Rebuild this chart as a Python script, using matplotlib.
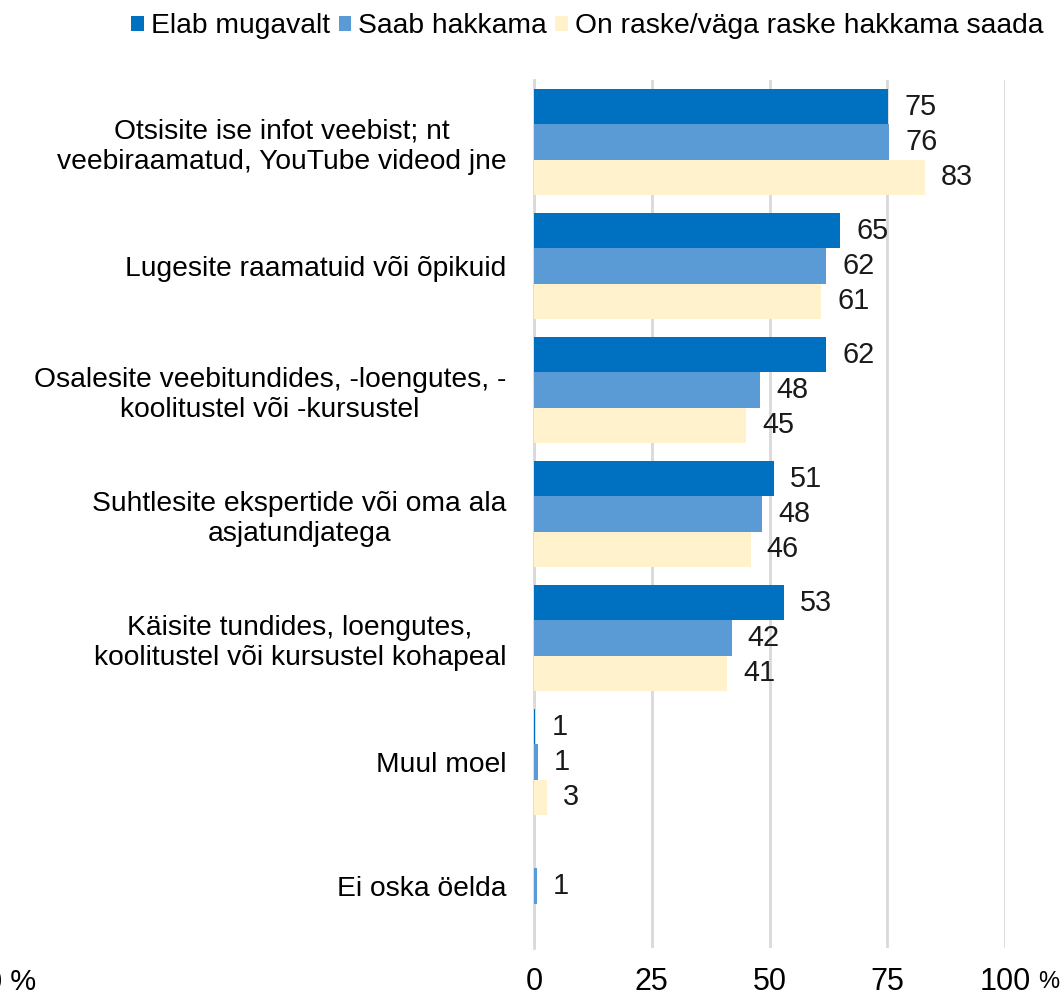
import numpy as np
import matplotlib.pyplot as plt

plt.rcParams['font.family'] = ['Liberation Sans', 'DejaVu Sans']

categories = [
    "Otsisite ise infot veebist; nt\nveebiraamatud, YouTube videod jne",
    "Lugesite raamatuid või õpikuid",
    "Osalesite veebitundides, -loengutes, -\nkoolitustel või -kursustel",
    "Suhtlesite ekspertide või oma ala\nasjatundjatega",
    "Käisite tundides, loengutes,\nkoolitustel või kursustel kohapeal",
    "Muul moel",
    "Ei oska öelda",
]
series = ["Elab mugavalt", "Saab hakkama", "On raske/väga raske hakkama saada"]
colors = ["#0070C0", "#5B9BD5", "#FFF2CC"]

# bar lengths and the printed labels
elab = [75.2, 65, 62, 51, 53, 0.3, np.nan]
saab = [75.4, 62, 48, 48.4, 42, 0.8, 0.6]
raske = [83, 61, 45, 46, 41, 2.8, np.nan]
elab_lbl = ["75", "65", "62", "51", "53", "1", ""]
saab_lbl = ["76", "62", "48", "48", "42", "1", "1"]
raske_lbl = ["83", "61", "45", "46", "41", "3", ""]

fs = 20.3

fig = plt.figure(figsize=(10.63, 9.96), dpi=100)
ax = fig.add_axes([0.5024, 0.0482, 0.443, 0.8715])

y = np.arange(len(categories))
h = 0.285
for off, vals, lbls, col, name in zip([-h, 0, h], [elab, saab, raske],
                                      [elab_lbl, saab_lbl, raske_lbl], colors, series):
    ax.barh(y + off, vals, height=h, color=col, label=name, zorder=3)
    for yi, v, t in zip(y + off, vals, lbls):
        if t:
            ax.text(v + 3.4, yi, t, va='center', ha='left', fontsize=fs + 0.5, color='#1a1a1a')

ax.set_xlim(0, 100)
ax.set_ylim(6.5, -0.5)
ax.set_xticks([0, 25, 50, 75, 100])
ax.set_xticklabels(["0", "25", "50", "75", "100"], fontsize=22)
ax.set_yticks(y)
ax.set_yticklabels(categories, fontsize=fs, multialignment='center')
ax.tick_params(axis='y', length=0, pad=20)
ax.tick_params(axis='x', length=0, pad=14)
ax.grid(axis='x', color='#D9D9D9', linewidth=2, zorder=0)
for s in ['top', 'right', 'bottom']:
    ax.spines[s].set_visible(False)
ax.spines['left'].set_color('#D9D9D9')
ax.spines['left'].set_linewidth(2)

fig.text(1038 / 1063, 1 - 988 / 996, "%", fontsize=17, ha='left', va='baseline')
fig.text(-14 / 1063, 1 - 990 / 996, "0 %", fontsize=21, ha='left', va='baseline')

fig.legend(loc='upper center', bbox_to_anchor=(0.5527, 1.012), ncol=3, frameon=False,
           fontsize=20.3, handlelength=0.45, handleheight=0.45, handletextpad=0.25,
           columnspacing=0.3)

fig.savefig("out.png", dpi=100)
